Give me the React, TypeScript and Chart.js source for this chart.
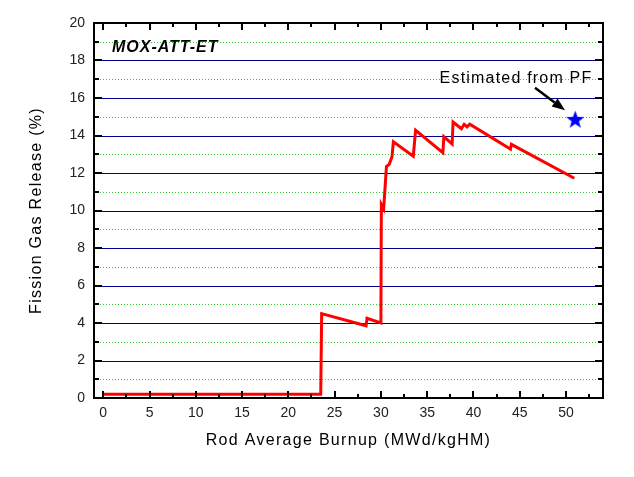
import React, { useEffect, useRef } from "react";
import { Chart, registerables } from "chart.js";

Chart.register(...registerables);

// Rod average burnup (MWd/kgHM)
const burnup = [0, 23.5, 23.6, 28.4, 28.5, 30.0, 30.05, 30.3, 30.6, 30.9, 31.2, 31.35, 33.5, 33.75, 36.7, 36.8, 37.7, 37.8, 38.7, 39.0, 39.3, 39.6, 44.0, 44.1, 50.9];
// Fission gas release (%)
const fgr = [0.2, 0.2, 4.5, 3.85, 4.25, 4.0, 10.33, 10.1, 12.34, 12.46, 12.87, 13.67, 12.9, 14.28, 13.08, 13.94, 13.55, 14.72, 14.36, 14.6, 14.46, 14.6, 13.28, 13.53, 11.72];
// Estimated from PF
const pfBurnup = [51.0];
const pfFgr = [14.86];

const xTickValues = [0, 5, 10, 15, 20, 25, 30, 35, 40, 45, 50];
const yTickValues = [0, 2, 4, 6, 8, 10, 12, 14, 16, 18, 20];

const chartTitle = "MOX-ATT-ET";
const annotationText = "Estimated from PF";
const xTitle = "Rod Average Burnup (MWd/kgHM)";
const yTitle = "Fission Gas Release (%)";

function makeStar(): HTMLCanvasElement {
  const c = document.createElement("canvas");
  c.width = 21;
  c.height = 21;
  const g = c.getContext("2d")!;
  g.fillStyle = "#0000ff";
  g.beginPath();
  for (let i = 0; i < 10; i++) {
    const r = i % 2 === 0 ? 9.5 : 3.9;
    const a = -Math.PI / 2 + (i * Math.PI) / 5;
    const px = 10.5 + r * Math.cos(a);
    const py = 11.2 + r * Math.sin(a);
    if (i === 0) g.moveTo(px, py);
    else g.lineTo(px, py);
  }
  g.closePath();
  g.fill();
  return c;
}

const FONT = '"Liberation Sans", Arial, sans-serif';

const decorPlugin = {
  id: "decor",
  beforeDatasetsDraw(chart: any) {
    const { ctx, chartArea: a, scales } = chart;
    const y = scales.y;
    ctx.save();
    for (let v = 1; v < 20; v++) {
      const py = Math.round(y.getPixelForValue(v)) + 0.5;
      ctx.beginPath();
      if (v % 2 === 0) {
        ctx.strokeStyle = "#000090";
        ctx.setLineDash([]);
      } else {
        ctx.strokeStyle = "#33cc33";
        ctx.setLineDash([1, 2]);
      }
      ctx.lineWidth = 1;
      ctx.moveTo(a.left, py);
      ctx.lineTo(a.right, py);
      ctx.stroke();
    }
    ctx.restore();
  },
  afterDatasetsDraw(chart: any) {
    const { ctx, chartArea: a, scales } = chart;
    const x = scales.x;
    const y = scales.y;
    ctx.save();
    ctx.setLineDash([]);
    ctx.strokeStyle = "#000";
    ctx.lineWidth = 2;
    ctx.strokeRect(a.left, a.top, a.right - a.left, a.bottom - a.top);
    // ticks
    ctx.lineWidth = 2;
    ctx.beginPath();
    for (let v = 0; v <= 52.5; v += 2.5) {
      const px = Math.round(x.getPixelForValue(v));
      const len = v % 5 === 0 ? 7 : 4;
      ctx.moveTo(px, a.bottom);
      ctx.lineTo(px, a.bottom - len);
      ctx.moveTo(px, a.top);
      ctx.lineTo(px, a.top + len);
    }
    for (let v = 1; v < 20; v++) {
      const py = Math.round(y.getPixelForValue(v));
      const len = v % 2 === 0 ? 8 : 5;
      ctx.moveTo(a.left, py);
      ctx.lineTo(a.left + len, py);
      ctx.moveTo(a.right, py);
      ctx.lineTo(a.right - len, py);
    }
    ctx.stroke();

    // chart title
    ctx.fillStyle = "#000";
    (ctx as any).letterSpacing = "1px";
    ctx.font = `italic bold 16px ${FONT}`;
    ctx.textAlign = "left";
    ctx.textBaseline = "middle";
    ctx.fillText(chartTitle, x.getPixelForValue(0.94), y.getPixelForValue(18.69));

    // annotation text
    (ctx as any).letterSpacing = "1.2px";
    ctx.font = `16px ${FONT}`;
    ctx.textAlign = "center";
    ctx.fillText(annotationText, x.getPixelForValue(44.6), y.getPixelForValue(17.05));

    // arrow
    const x0 = x.getPixelForValue(46.65);
    const y0 = y.getPixelForValue(16.55);
    const x1 = x.getPixelForValue(49.9);
    const y1 = y.getPixelForValue(15.35);
    const ang = Math.atan2(y1 - y0, x1 - x0);
    const headLen = 13;
    const headW = 5;
    const bx = x1 - headLen * Math.cos(ang);
    const by = y1 - headLen * Math.sin(ang);
    ctx.beginPath();
    ctx.lineWidth = 2.5;
    ctx.moveTo(x0, y0);
    ctx.lineTo(bx, by);
    ctx.stroke();
    ctx.beginPath();
    ctx.moveTo(x1, y1);
    ctx.lineTo(bx + headW * Math.sin(ang), by - headW * Math.cos(ang));
    ctx.lineTo(bx - headW * Math.sin(ang), by + headW * Math.cos(ang));
    ctx.closePath();
    ctx.fill();

    // axis titles
    (ctx as any).letterSpacing = "1.3px";
    ctx.font = `16px ${FONT}`;
    ctx.textAlign = "center";
    ctx.textBaseline = "middle";
    ctx.fillText(xTitle, (a.left + a.right) / 2, 441);
    ctx.translate(37, (a.top + a.bottom) / 2);
    ctx.rotate(-Math.PI / 2);
    ctx.fillText(yTitle, 0, 0);
    ctx.restore();
  },
};

export default function App() {
  const ref = useRef<HTMLCanvasElement | null>(null);
  useEffect(() => {
    if (!ref.current) return;
    const star = makeStar();
    const chart = new Chart(ref.current, {
      type: "scatter",
      data: {
        datasets: [
          {
            data: burnup.map((b, i) => ({ x: b, y: fgr[i] })),
            showLine: true,
            borderColor: "#ff0000",
            backgroundColor: "#ff0000",
            borderWidth: 3,
            pointRadius: 0,
            tension: 0,
            borderJoinStyle: "miter",
          },
          {
            data: pfBurnup.map((b, i) => ({ x: b, y: pfFgr[i] })),
            showLine: false,
            pointStyle: star as any,
            pointRadius: 10,
            backgroundColor: "#0000ff",
            borderColor: "#0000ff",
          },
        ],
      },
      options: {
        responsive: false,
        animation: false,
        devicePixelRatio: 1,
        layout: { padding: { left: 0, right: 31, top: 23, bottom: 0 } },
        plugins: { legend: { display: false }, tooltip: { enabled: false }, title: { display: false } },
        scales: {
          x: {
            type: "linear",
            min: -1,
            max: 54,
            afterBuildTicks: (s: any) => {
              s.ticks = xTickValues.map((v) => ({ value: v }));
            },
            afterFit: (s: any) => {
              s.height = 79;
            },
            grid: { display: false, drawTicks: false },
            border: { display: false },
            ticks: { padding: 7, color: "#222", font: { family: FONT, size: 14 }, maxRotation: 0 },
          },
          y: {
            type: "linear",
            min: 0,
            max: 20,
            afterBuildTicks: (s: any) => {
              s.ticks = yTickValues.map((v) => ({ value: v }));
            },
            afterFit: (s: any) => {
              s.width = 94;
            },
            grid: { display: false, drawTicks: false },
            border: { display: false },
            ticks: { padding: 9, color: "#222", font: { family: FONT, size: 14 } },
          },
        },
      },
      plugins: [decorPlugin],
    });
    return () => chart.destroy();
  }, []);
  return (
    <div style={{ position: "fixed", left: 0, top: 0, width: 634, height: 477, background: "#fff" }}>
      <canvas ref={ref} width={634} height={477} style={{ display: "block" }} />
    </div>
  );
}
